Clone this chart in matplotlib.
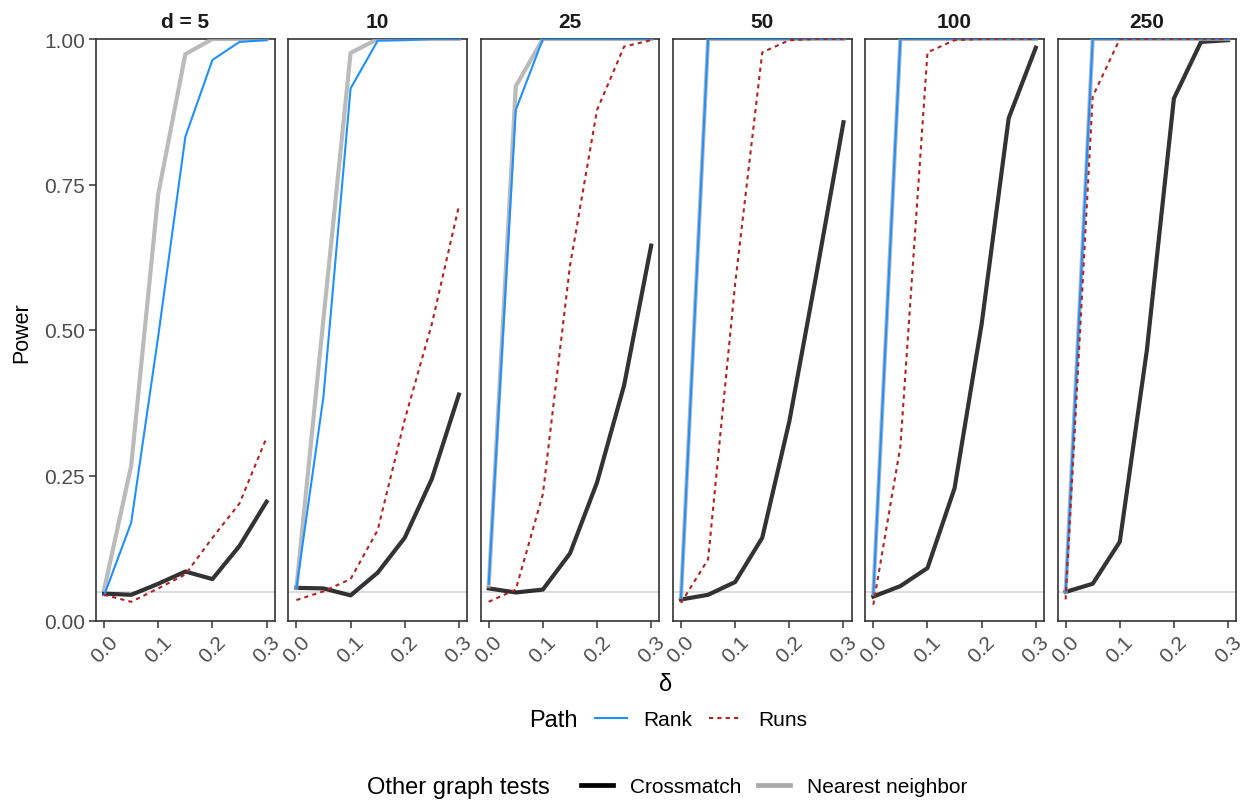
import matplotlib
matplotlib.use("Agg")
import matplotlib.pyplot as plt
from matplotlib.lines import Line2D

plt.rcParams["font.family"] = ["Liberation Sans", "DejaVu Sans"]

# data (power vs delta, one row per dimension)
delta = [0.0, 0.05, 0.1, 0.15, 0.2, 0.25, 0.3]
dims = ["d = 5", "10", "25", "50", "100", "250"]

crossmatch = [
    [0.047, 0.045, 0.064, 0.085, 0.072, 0.129, 0.205],
    [0.057, 0.056, 0.044, 0.083, 0.143, 0.244, 0.389],
    [0.056, 0.049, 0.054, 0.116, 0.238, 0.405, 0.645],
    [0.037, 0.045, 0.067, 0.143, 0.343, 0.596, 0.857],
    [0.042, 0.060, 0.091, 0.228, 0.510, 0.864, 0.985],
    [0.050, 0.064, 0.136, 0.465, 0.898, 0.995, 0.998],
]
nearest = [
    [0.054, 0.267, 0.734, 0.974, 1.0, 1.0, 1.0],
    [0.057, 0.520, 0.976, 1.0, 1.0, 1.0, 1.0],
    [0.060, 0.919, 1.0, 1.0, 1.0, 1.0, 1.0],
    [0.041, 1.0, 1.0, 1.0, 1.0, 1.0, 1.0],
    [0.047, 1.0, 1.0, 1.0, 1.0, 1.0, 1.0],
    [0.050, 1.0, 1.0, 1.0, 1.0, 1.0, 1.0],
]
rank = [
    [0.044, 0.169, 0.490, 0.832, 0.964, 0.995, 0.998],
    [0.056, 0.386, 0.915, 0.997, 0.998, 1.0, 1.0],
    [0.064, 0.878, 1.0, 1.0, 1.0, 1.0, 1.0],
    [0.040, 1.0, 1.0, 1.0, 1.0, 1.0, 1.0],
    [0.047, 1.0, 1.0, 1.0, 1.0, 1.0, 1.0],
    [0.050, 1.0, 1.0, 1.0, 1.0, 1.0, 1.0],
]
runs = [
    [0.045, 0.033, 0.056, 0.080, 0.143, 0.202, 0.315],
    [0.036, 0.051, 0.072, 0.156, 0.346, 0.510, 0.713],
    [0.033, 0.054, 0.218, 0.610, 0.878, 0.987, 0.998],
    [0.031, 0.106, 0.580, 0.977, 0.998, 1.0, 1.0],
    [0.028, 0.300, 0.977, 0.998, 1.0, 1.0, 1.0],
    [0.037, 0.901, 1.0, 1.0, 1.0, 1.0, 1.0],
]
alpha_level = 0.05

W, H = 1244, 803
fig = plt.figure(figsize=(W / 100, H / 100), dpi=100)

blue = "#1E90FF"
red = "#B22222"
dotted = (0, (2, 2))

for i, lab in enumerate(dims):
    left = (96 + i * 192.3) / W
    ax = fig.add_axes([left, 1 - 622 / H, 178.7 / W, 582 / H])

    ax.axhline(alpha_level, color="#DDDDDD", lw=1.4, zorder=1)
    ax.plot(delta, crossmatch[i], color="black", alpha=0.8, lw=3.0, zorder=2)
    ax.plot(delta, nearest[i], color="#AAAAAA", alpha=0.8, lw=3.0, zorder=3)
    ax.plot(delta, rank[i], color=blue, lw=1.5, zorder=4)
    ax.plot(delta, runs[i], color=red, lw=1.5, ls=dotted, zorder=5)

    ax.set_xlim(-0.015, 0.315)
    ax.set_ylim(0, 1)
    ax.set_xticks([0.0, 0.1, 0.2, 0.3])
    ax.set_xticklabels(["0.0", "0.1", "0.2", "0.3"], rotation=45,
                       ha="center", va="top")
    ax.set_yticks([0, 0.25, 0.5, 0.75, 1.0])
    ax.set_yticklabels(["0.00", "0.25", "0.50", "0.75", "1.00"])
    ax.tick_params(labelsize=15, labelcolor="#4D4D4D", color="#333333",
                   width=1.1, length=5, pad=3)
    if i > 0:
        ax.tick_params(axis="y", left=False, labelleft=False)
    for sp in ax.spines.values():
        sp.set_color("#333333")
        sp.set_linewidth(1.2)
    ax.set_title(lab, fontsize=15, fontweight="bold", color="#1A1A1A", pad=9)

fig.text(22 / W, 1 - 333 / H, "Power", rotation=90, ha="center", va="center",
         fontsize=15.5)
fig.text(666 / W, 1 - 685 / H, "δ", ha="center", va="center", fontsize=17)

# legend: Path
path_handles = [Line2D([], [], color=blue, lw=1.5),
                Line2D([], [], color=red, lw=1.5, ls=dotted)]
fig.text(529 / W, 1 - 721 / H, "Path", ha="left", va="center", fontsize=17)
fig.legend(path_handles, ["Rank", "Runs"], loc="center",
           bbox_to_anchor=(701 / W, 1 - 721 / H), ncol=2, frameon=False,
           fontsize=15, handlelength=1.55, handletextpad=0.8,
           columnspacing=0.8, borderpad=0)

# legend: Other graph tests
other_handles = [Line2D([], [], color="black", lw=3.4),
                 Line2D([], [], color="#AAAAAA", lw=3.4)]
fig.text(367 / W, 1 - 788 / H, "Other graph tests", ha="left", va="center",
         fontsize=17)
fig.legend(other_handles, ["Crossmatch", "Nearest neighbor"], loc="center",
           bbox_to_anchor=(774 / W, 1 - 788 / H), ncol=2, frameon=False,
           fontsize=15, handlelength=1.55, handletextpad=0.8,
           columnspacing=0.8, borderpad=0)

fig.savefig("out.png", dpi=100)
